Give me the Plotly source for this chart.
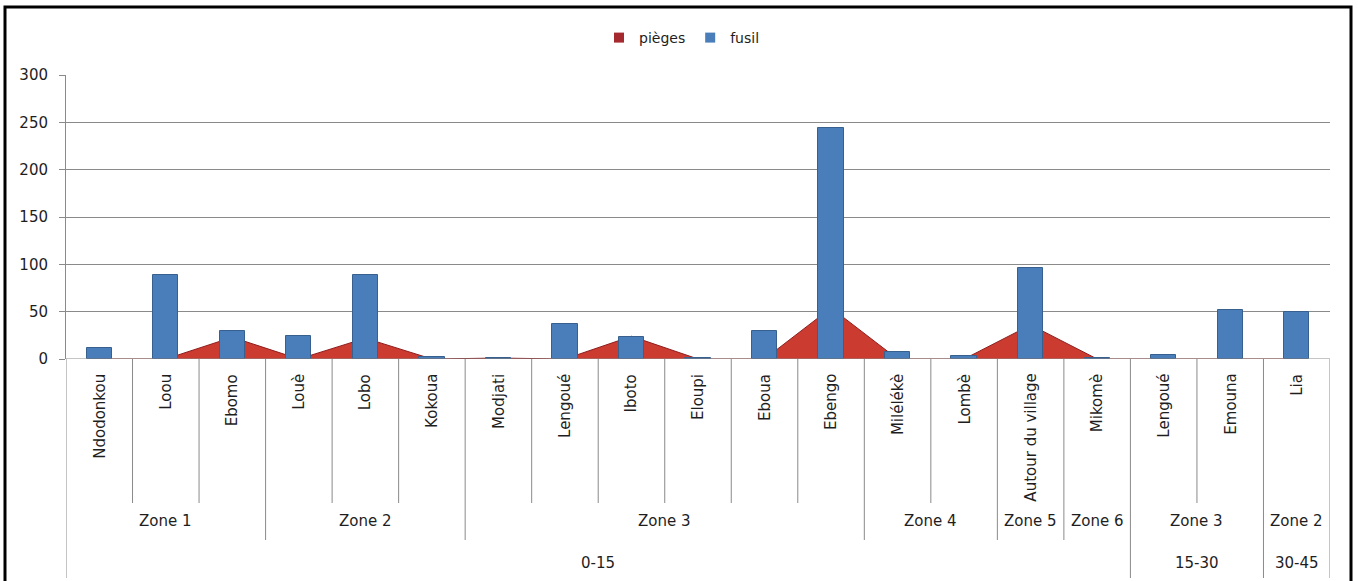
import plotly.graph_objects as go

# Localities (level 1), zones (level 2) and distance classes in km (level 3)
sites = ["Ndodonkou", "Loou", "Ebomo", "Louè", "Lobo", "Kokoua", "Modjati",
         "Lengoué", "Iboto", "Eloupi", "Eboua", "Ebengo", "Milélékè", "Lombè",
         "Autour du village", "Mikomè", "Lengoué", "Emouna", "Lia"]
zones = ["Zone 1", "Zone 1", "Zone 1", "Zone 2", "Zone 2", "Zone 2", "Zone 3",
         "Zone 3", "Zone 3", "Zone 3", "Zone 3", "Zone 3", "Zone 4", "Zone 4",
         "Zone 5", "Zone 6", "Zone 3", "Zone 3", "Zone 2"]
distances = ["0-15"] * 16 + ["15-30", "15-30", "30-45"]

# Catches per hunting technique
pieges = [0, 0, 23, 0, 22, 0, 1, 0, 24, 0, 0, 54, 0, 0, 36, 0, 0, 0, 0]
fusil = [12, 89, 30, 24, 89, 2, 1, 37, 23, 1, 30, 244, 7, 3, 96, 1, 4, 52, 50]

y_ticks = [0, 50, 100, 150, 200, 250, 300]

FONT = "DejaVu Sans"
TEXT = "#1e1e1e"
GRID = "#8a8a8a"
RED_FILL = "#cc3b30"
RED_LINE = "#8e1d1d"
BLUE_FILL = "#4a7ebb"
BLUE_LINE = "#37608f"

W, H = 1358, 581
M_L, M_R, M_T, M_B = 66, 28, 75, 222
PLOT_W = W - M_L - M_R
PLOT_H = H - M_T - M_B


def py(pixel_y):
    """Page pixel row -> paper y."""
    return (H - M_B - pixel_y) / PLOT_H


def px(pixel_x):
    """Page pixel column -> paper x."""
    return (pixel_x - M_L) / PLOT_W


n = len(sites)
xs = list(range(n))

fig = go.Figure()

# Area series (drawn on the base axis, underneath the columns)
fig.add_trace(go.Scatter(
    x=xs, y=pieges, mode="lines", fill="tozeroy",
    line=dict(color=RED_LINE, width=1), fillcolor=RED_FILL,
    showlegend=False, hoverinfo="skip", yaxis="y"))

# Column series on an overlaying axis so it sits above the area
fig.add_trace(go.Bar(
    x=xs, y=fusil, width=0.38, marker=dict(color=BLUE_FILL,
                                           line=dict(color=BLUE_LINE, width=1)),
    showlegend=False, yaxis="y2"))

# Legend entries
fig.add_trace(go.Scatter(x=[None], y=[None], mode="markers", name="pièges",
                         marker=dict(symbol="square", size=10, color="#a52a2f")))
fig.add_trace(go.Scatter(x=[None], y=[None], mode="markers", name="fusil",
                         marker=dict(symbol="square", size=10, color=BLUE_FILL)))

fig.update_layout(
    width=W, height=H,
    margin=dict(l=M_L, r=M_R, t=M_T, b=M_B),
    paper_bgcolor="white", plot_bgcolor="white",
    font=dict(family=FONT, size=15, color=TEXT),
    bargap=0,
    legend=dict(orientation="h", x=px(682), xanchor="center",
                y=py(38), yanchor="middle", font=dict(size=14),
                itemwidth=30, tracegroupgap=0),
    xaxis=dict(range=[-0.5, n - 0.5], showticklabels=False, showgrid=False,
               zeroline=False, showline=False, ticks=""),
    yaxis=dict(range=[0, 300], tickvals=y_ticks, showgrid=True,
               gridcolor=GRID, gridwidth=1, zeroline=False,
               showline=True, linecolor=GRID, linewidth=1,
               ticks="outside", ticklen=6, tickcolor=GRID,
               ticklabelstandoff=8,
               tickfont=dict(size=15, color=TEXT)),
    yaxis2=dict(range=[0, 300], overlaying="y", visible=False),
)

shapes = []
annotations = []

# Baseline of the category axis
shapes.append(dict(type="line", xref="paper", yref="y", x0=0, x1=1, y0=0, y1=0,
                   line=dict(color=GRID, width=1)))

# Level 1: site names, rotated
for i, name in enumerate(sites):
    annotations.append(dict(x=i, y=py(372), xref="x", yref="paper", text=name,
                            textangle=-90, showarrow=False, xanchor="center",
                            yanchor="top", font=dict(size=15, color=TEXT)))


def runs(labels, keys=None):
    """Consecutive runs of identical labels (optionally within parent keys)."""
    out = []
    start = 0
    for i in range(1, n + 1):
        key_prev = (labels[i - 1], keys[i - 1] if keys else None)
        if i == n or (labels[i], keys[i] if keys else None) != key_prev:
            out.append((start, i - 1, labels[start]))
            start = i
    return out


zone_runs = runs(zones, distances)
dist_runs = runs(distances)

zone_bounds = {s for s, _, _ in zone_runs} | {e + 1 for _, e, _ in zone_runs}
dist_bounds = {s for s, _, _ in dist_runs} | {e + 1 for _, e, _ in dist_runs}

# Separator lines between categories, zones and distance classes
for b in range(n + 1):
    if b in dist_bounds:
        bottom = 578
    elif b in zone_bounds:
        bottom = 540
    else:
        bottom = 503
    shapes.append(dict(type="line", xref="x", yref="paper", x0=b - 0.5,
                       x1=b - 0.5, y0=py(359), y1=py(bottom),
                       line=dict(color=GRID, width=1)))

# Level 2: zones
for s, e, label in zone_runs:
    annotations.append(dict(x=(s + e) / 2, y=py(521), xref="x", yref="paper",
                            text=label, showarrow=False, xanchor="center",
                            yanchor="middle", font=dict(size=15, color=TEXT)))

# Level 3: distance classes
for s, e, label in dist_runs:
    annotations.append(dict(x=(s + e) / 2, y=py(563), xref="x", yref="paper",
                            text=label, showarrow=False, xanchor="center",
                            yanchor="middle", font=dict(size=15, color=TEXT)))

# Outer frame (left, top, right)
shapes.append(dict(type="path", xref="paper", yref="paper",
                   path=f"M {px(5)} {py(590)} L {px(5)} {py(7)} "
                        f"L {px(1351)} {py(7)} L {px(1351)} {py(590)}",
                   line=dict(color="black", width=3)))

fig.update_layout(shapes=shapes, annotations=annotations)

fig.write_html("out.html")
